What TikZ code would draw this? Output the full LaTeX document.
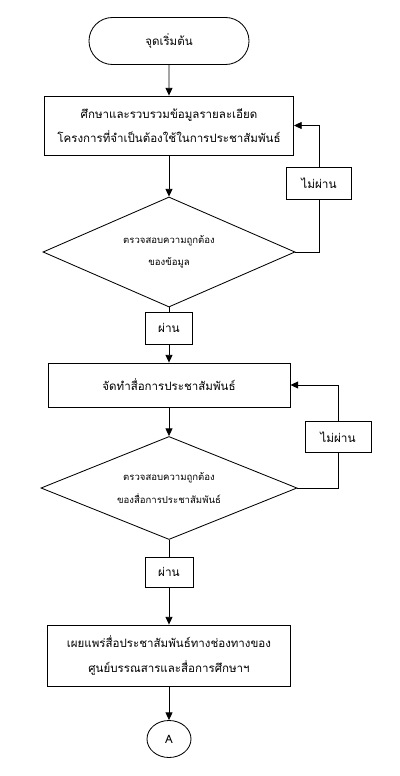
\documentclass[tikz,border=0pt]{standalone}
\usepackage{fontspec}
\newfontfamily\thaifont[Script=Thai]{Loma}
\usepackage{tikz}
\usetikzlibrary{positioning,arrows.meta,shapes}

\tikzset{
    box/.style={draw, rectangle, line width=0.6pt, inner sep=0pt, align=center,
        font=\thaifont\fontsize{8.2}{17.5}\selectfont},
    decide/.style={draw, diamond, aspect=2.3, line width=0.6pt, inner sep=0pt, align=center,
        font=\thaifont\fontsize{6.8}{16}\selectfont},
    tag/.style={draw, rectangle, line width=0.6pt, inner sep=0pt,
        font=\thaifont\fontsize{8.4}{12}\selectfont},
    arr/.style={line width=0.6pt, -{Triangle[width=5pt,length=5.5pt]}},
    line/.style={line width=0.6pt}
}

\begin{document}
\begin{tikzpicture}[x=0.025cm, y=-0.025cm]
        \useasboundingbox (0,0) rectangle (400,776);

        \node[box, rounded rectangle, minimum width=4cm, minimum height=1.175cm] (start) at (169, 41) {จุดเริ่มต้น};
        \node[box, minimum width=6.225cm, minimum height=1.475cm] (study) at (169, 125.5) {ศึกษาและรวบรวมข้อมูลรายละเอียด\\โครงการที่จำเป็นต้องใช้ในการประชาสัมพันธ์};
        \node[decide, minimum width=6.3cm, minimum height=2.75cm] (check1) at (169, 252) {ตรวจสอบความถูกต้อง\\ของข้อมูล};
        \node[tag, minimum width=1.63cm, minimum height=0.8cm] (fail1) at (319, 183) {ไม่ผ่าน};
        \node[tag, minimum width=1.18cm, minimum height=0.8cm] (pass1) at (169, 328) {ผ่าน};

        \node[box, minimum width=6.05cm, minimum height=1.1cm] (make) at (169, 385) {จัดทำสื่อการประชาสัมพันธ์};
        \node[decide, minimum width=6.4cm, minimum height=2.575cm] (check2) at (169, 488) {ตรวจสอบความถูกต้อง\\ของสื่อการประชาสัมพันธ์};
        \node[tag, minimum width=1.65cm, minimum height=0.78cm] (fail2) at (338, 437) {ไม่ผ่าน};
        \node[tag, minimum width=1.2cm, minimum height=0.75cm] (pass2) at (169, 572) {ผ่าน};

        \node[box, minimum width=6.075cm, minimum height=1.525cm] (spread) at (169, 655.5) {เผยแพร่สื่อประชาสัมพันธ์ทางช่องทางของ\\ศูนย์บรรณสารและสื่อการศึกษาฯ};
        \node[box, ellipse, minimum width=1.1cm, minimum height=0.925cm] (link) at (169, 739) {A};

        \draw[arr] (start) -- (study);
        \draw[arr] (study) -- (check1);
        \draw[line] (check1.east) -| (fail1.south);
        \draw[arr] (fail1.north) |- (study.east);
        \draw[line] (check1.south) -- (pass1.north);
        \draw[arr] (pass1.south) -- (make.north);

        \draw[arr] (make) -- (check2);
        \draw[line] (check2.east) -| (fail2.south);
        \draw[arr] (fail2.north) |- (make.east);
        \draw[line] (check2.south) -- (pass2.north);
        \draw[arr] (pass2.south) -- (spread.north);
        \draw[arr] (spread) -- (link);
    \end{tikzpicture}
\end{document}
